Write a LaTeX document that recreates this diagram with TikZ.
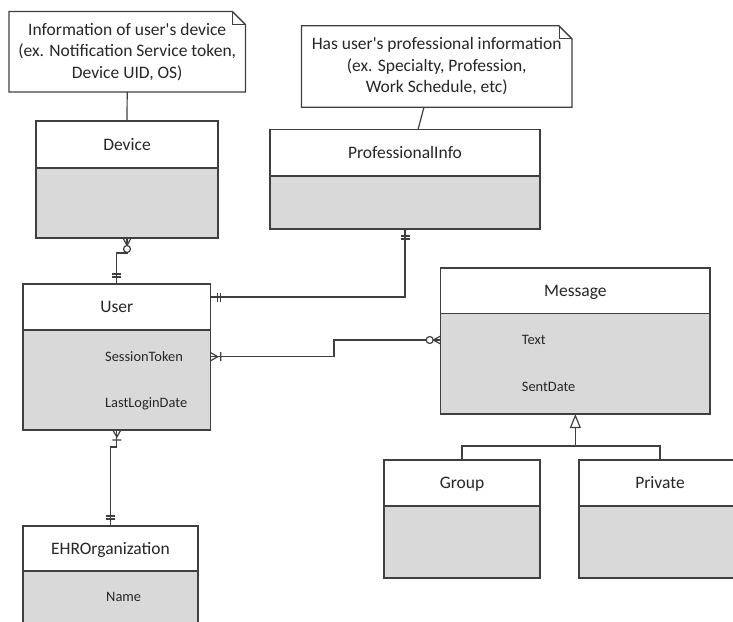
\documentclass[tikz,border=0pt]{standalone}
\usepackage{fontspec}
\setmainfont{Carlito}[Ligatures=TeXOff]
\usetikzlibrary{arrows.meta,calc}
\definecolor{edge}{HTML}{3F3F3F}
\definecolor{boxfill}{HTML}{D9D9D9}
\definecolor{ink}{HTML}{262626}

\begin{document}
\begin{tikzpicture}[x=1pt,y=1pt,
  entline/.style={draw=edge, line width=1.3pt},
  hdr/.style={entline, fill=white, inner sep=0pt, outer sep=0pt, anchor=north west,
    font=\fontsize{17.5}{21}\selectfont, text=ink, text height=11.3pt, text depth=0pt},
  bodybox/.style={entline, fill=boxfill, inner sep=0pt, outer sep=0pt, anchor=north},
  attr/.style={inner sep=0pt, anchor=west, font=\fontsize{14.4}{17}\selectfont,
    text=ink, text height=9.3pt, text depth=0pt},
  notebox/.style={inner sep=0pt, align=center, font=\fontsize{17.5}{21.5}\selectfont, text=ink},
  conn/.style={draw=edge, line width=1.2pt},
  fold/.style={draw=edge, line width=0.8pt},
  pics/onlyone/.style={code={\draw[conn] (7,-4.5)--(7,4.5) (10,-4.5)--(10,4.5);}},
  pics/onemany/.style={code={\draw[conn] (0,4)--(7,0)--(0,-4) (10,-4.5)--(10,4.5);}},
  pics/zeromany/.style={code={\draw[conn] (0,4)--(7.5,0)--(0,-4);
      \draw[conn,fill=white] (11,0) circle[radius=3.5];}},
]
\useasboundingbox (0,0) rectangle (733,-621);
\clip (0,0) rectangle (733,-621);

% ---------- notes ----------
\node[notebox, minimum width=236, minimum height=80] (note1) at (127.2,-51.7)
  {Information of user's device\\(ex. Notification Service token,\\Device UID, OS)};
\draw[entline] (note1.north west) -- ([xshift=-13]note1.north east)
  -- ([yshift=-13]note1.north east) -- (note1.south east) -- (note1.south west) -- cycle;
\draw[fold] ([xshift=-13]note1.north east) -- ++(0,-13) -- ([yshift=-13]note1.north east);

\node[notebox, minimum width=270, minimum height=81] (note2) at (436.7,-66.5)
  {Has user's professional information\\(ex. Specialty, Profession,\\Work Schedule, etc)};
\draw[entline] (note2.north west) -- ([xshift=-13]note2.north east)
  -- ([yshift=-13]note2.north east) -- (note2.south east) -- (note2.south west) -- cycle;
\draw[fold] ([xshift=-13]note2.north east) -- ++(0,-13) -- ([yshift=-13]note2.north east);

% ---------- entities ----------
\node[hdr, minimum width=182, minimum height=47] (devH) at (36,-121) {Device};
\node[bodybox, minimum width=182, minimum height=70] (devB) at (devH.south) {};

\node[hdr, minimum width=270, minimum height=46.5] (piH) at (270,-129.5) {ProfessionalInfo};
\node[bodybox, minimum width=270, minimum height=53] (piB) at (piH.south) {};

\node[hdr, minimum width=187.7, minimum height=46] (userH) at (23,-284) {User};
\node[bodybox, minimum width=187.7, minimum height=100] (userB) at (userH.south) {};
\node[attr] (userA1) at (105,-356.7) {SessionToken};
\node[attr] (userA2) at (105,-403.3) {LastLoginDate};

\node[hdr, minimum width=269.3, minimum height=45.5] (msgH) at (440.7,-268) {Message};
\node[bodybox, minimum width=269.3, minimum height=100.5] (msgB) at (msgH.south) {};
\node[attr] (msgA1) at (521.7,-340) {Text};
\node[attr] (msgA2) at (521.7,-387) {SentDate};

\node[hdr, minimum width=156, minimum height=46] (grpH) at (384,-460) {Group};
\node[bodybox, minimum width=156, minimum height=72] (grpB) at (grpH.south) {};

\node[hdr, minimum width=162, minimum height=46] (privH) at (579,-460) {Private};
\node[bodybox, minimum width=162, minimum height=72] (privB) at (privH.south) {};

\node[hdr, minimum width=175, minimum height=45] (ehrH) at (23,-526) {EHROrganization};
\node[bodybox, minimum width=175, minimum height=70] (ehrB) at (ehrH.south) {};
\node[attr] (ehrA1) at (106,-596.7) {Name};

% ---------- note links ----------
\draw[conn] (note1.south) -- (devH.north);
\draw[conn] ([xshift=-12.7]note2.south) -- ([xshift=13]piH.north);

% ---------- relationships ----------
% Device -- User
\draw[conn] (devB.south) -- ++(0,-15) -| (userH.north);
\pic[rotate=-90] at (devB.south) {zeromany};
\pic[rotate=90] at (userH.north) {onlyone};

% ProfessionalInfo -- User
\coordinate (uPI) at ([yshift=10]userH.east);
\draw[conn] (piB.south) |- (uPI);
\pic[rotate=-90] at (piB.south) {onlyone};
\pic at (uPI) {onlyone};

% User -- Message
\coordinate (uM) at (userB.east |- userA1.west);
\coordinate (mU) at (msgB.west |- msgA1.west);
\coordinate (umJog) at (334,0);
\draw[conn] (uM) -| (umJog |- mU) -- (mU);
\pic at (uM) {onemany};
\pic[rotate=180] at (mU) {zeromany};

% User -- EHROrganization
\draw[conn] (userB.south) -- ++(0,-17) -| (ehrH.north);
\pic[rotate=-90] at (userB.south) {onemany};
\pic[rotate=90] at (ehrH.north) {onlyone};

% Generalization of Message
\coordinate (gen) at ([yshift=-32]msgB.south);
\draw[conn] (grpH.north) |- (gen) -| (privH.north);
\draw[conn, -{Triangle[open, length=14pt, width=11pt]}] (gen) -- (msgB.south);
\end{tikzpicture}
\end{document}
